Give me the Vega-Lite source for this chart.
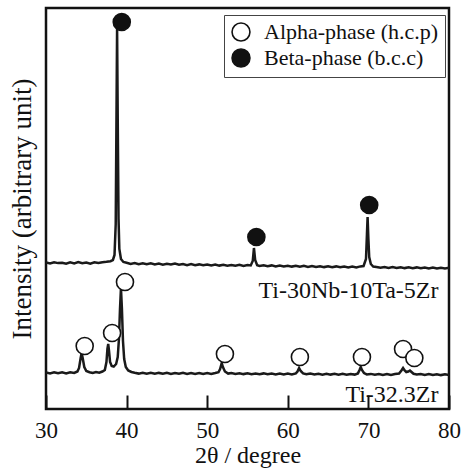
{
  "$schema": "https://vega.github.io/schema/vega-lite/v6.json",
  "autosize": {"type": "none"},
  "padding": {"left": 46, "top": 8, "right": 16, "bottom": 61},
  "width": 403,
  "height": 401,
  "config": {
    "view": {"stroke": "#111", "strokeWidth": 2.5},
    "font": "Liberation Serif"
  },
  "datasets": {
    "traceData": [
      {"sample": "upper", "theta": 30.0, "intensity": 146.5},
      {"sample": "upper", "theta": 30.5, "intensity": 145.5},
      {"sample": "upper", "theta": 31.0, "intensity": 146.8},
      {"sample": "upper", "theta": 31.5, "intensity": 145.9},
      {"sample": "upper", "theta": 32.0, "intensity": 146.3},
      {"sample": "upper", "theta": 32.5, "intensity": 145.2},
      {"sample": "upper", "theta": 33.0, "intensity": 146.6},
      {"sample": "upper", "theta": 33.5, "intensity": 145.6},
      {"sample": "upper", "theta": 34.0, "intensity": 146.9},
      {"sample": "upper", "theta": 34.5, "intensity": 145.8},
      {"sample": "upper", "theta": 35.0, "intensity": 146.4},
      {"sample": "upper", "theta": 35.5, "intensity": 145.3},
      {"sample": "upper", "theta": 36.0, "intensity": 146.7},
      {"sample": "upper", "theta": 36.5, "intensity": 146.0},
      {"sample": "upper", "theta": 37.0, "intensity": 146.8},
      {"sample": "upper", "theta": 37.5, "intensity": 147.2},
      {"sample": "upper", "theta": 38.0, "intensity": 147.8},
      {"sample": "upper", "theta": 38.3, "intensity": 149},
      {"sample": "upper", "theta": 38.5, "intensity": 154},
      {"sample": "upper", "theta": 38.65, "intensity": 185},
      {"sample": "upper", "theta": 38.75, "intensity": 300},
      {"sample": "upper", "theta": 38.82, "intensity": 381},
      {"sample": "upper", "theta": 38.9, "intensity": 290},
      {"sample": "upper", "theta": 39.0, "intensity": 190},
      {"sample": "upper", "theta": 39.1, "intensity": 160},
      {"sample": "upper", "theta": 39.3, "intensity": 150},
      {"sample": "upper", "theta": 39.6, "intensity": 147},
      {"sample": "upper", "theta": 40.0, "intensity": 146.2},
      {"sample": "upper", "theta": 40.5, "intensity": 145.1},
      {"sample": "upper", "theta": 41.0, "intensity": 146.0},
      {"sample": "upper", "theta": 41.5, "intensity": 144.9},
      {"sample": "upper", "theta": 42.0, "intensity": 145.8},
      {"sample": "upper", "theta": 42.5, "intensity": 144.7},
      {"sample": "upper", "theta": 43.0, "intensity": 145.6},
      {"sample": "upper", "theta": 43.5, "intensity": 144.6},
      {"sample": "upper", "theta": 44.0, "intensity": 145.5},
      {"sample": "upper", "theta": 44.5, "intensity": 144.3},
      {"sample": "upper", "theta": 45.0, "intensity": 145.2},
      {"sample": "upper", "theta": 45.5, "intensity": 144.5},
      {"sample": "upper", "theta": 46.0, "intensity": 145.4},
      {"sample": "upper", "theta": 46.5, "intensity": 144.2},
      {"sample": "upper", "theta": 47.0, "intensity": 145.0},
      {"sample": "upper", "theta": 47.5, "intensity": 143.9},
      {"sample": "upper", "theta": 48.0, "intensity": 144.9},
      {"sample": "upper", "theta": 48.5, "intensity": 143.8},
      {"sample": "upper", "theta": 49.0, "intensity": 144.6},
      {"sample": "upper", "theta": 49.5, "intensity": 143.7},
      {"sample": "upper", "theta": 50.0, "intensity": 144.5},
      {"sample": "upper", "theta": 50.5, "intensity": 143.5},
      {"sample": "upper", "theta": 51.0, "intensity": 144.4},
      {"sample": "upper", "theta": 51.5, "intensity": 143.4},
      {"sample": "upper", "theta": 52.0, "intensity": 144.2},
      {"sample": "upper", "theta": 52.5, "intensity": 143.3},
      {"sample": "upper", "theta": 53.0, "intensity": 144.0},
      {"sample": "upper", "theta": 53.5, "intensity": 143.2},
      {"sample": "upper", "theta": 54.0, "intensity": 144.1},
      {"sample": "upper", "theta": 54.5, "intensity": 143.0},
      {"sample": "upper", "theta": 55.0, "intensity": 143.9},
      {"sample": "upper", "theta": 55.4, "intensity": 143.5},
      {"sample": "upper", "theta": 55.65, "intensity": 148},
      {"sample": "upper", "theta": 55.8, "intensity": 161},
      {"sample": "upper", "theta": 55.95, "intensity": 149},
      {"sample": "upper", "theta": 56.2, "intensity": 143.8},
      {"sample": "upper", "theta": 56.5, "intensity": 143.0},
      {"sample": "upper", "theta": 57.0, "intensity": 143.8},
      {"sample": "upper", "theta": 57.5, "intensity": 142.8},
      {"sample": "upper", "theta": 58.0, "intensity": 143.6},
      {"sample": "upper", "theta": 58.5, "intensity": 142.6},
      {"sample": "upper", "theta": 59.0, "intensity": 143.5},
      {"sample": "upper", "theta": 59.5, "intensity": 142.5},
      {"sample": "upper", "theta": 60.0, "intensity": 143.3},
      {"sample": "upper", "theta": 60.5, "intensity": 142.4},
      {"sample": "upper", "theta": 61.0, "intensity": 143.2},
      {"sample": "upper", "theta": 61.5, "intensity": 142.2},
      {"sample": "upper", "theta": 62.0, "intensity": 143.1},
      {"sample": "upper", "theta": 62.5, "intensity": 142.1},
      {"sample": "upper", "theta": 63.0, "intensity": 142.9},
      {"sample": "upper", "theta": 63.5, "intensity": 142.0},
      {"sample": "upper", "theta": 64.0, "intensity": 142.8},
      {"sample": "upper", "theta": 64.5, "intensity": 141.9},
      {"sample": "upper", "theta": 65.0, "intensity": 142.7},
      {"sample": "upper", "theta": 65.5, "intensity": 141.8},
      {"sample": "upper", "theta": 66.0, "intensity": 142.6},
      {"sample": "upper", "theta": 66.5, "intensity": 141.7},
      {"sample": "upper", "theta": 67.0, "intensity": 142.5},
      {"sample": "upper", "theta": 67.5, "intensity": 141.6},
      {"sample": "upper", "theta": 68.0, "intensity": 142.4},
      {"sample": "upper", "theta": 68.5, "intensity": 141.6},
      {"sample": "upper", "theta": 69.0, "intensity": 142.6},
      {"sample": "upper", "theta": 69.4, "intensity": 143},
      {"sample": "upper", "theta": 69.7, "intensity": 150},
      {"sample": "upper", "theta": 69.82, "intensity": 175},
      {"sample": "upper", "theta": 69.9, "intensity": 192},
      {"sample": "upper", "theta": 70.0, "intensity": 170},
      {"sample": "upper", "theta": 70.1, "intensity": 152},
      {"sample": "upper", "theta": 70.3, "intensity": 145},
      {"sample": "upper", "theta": 70.6, "intensity": 142.5},
      {"sample": "upper", "theta": 71.0, "intensity": 142.0},
      {"sample": "upper", "theta": 71.5, "intensity": 141.2},
      {"sample": "upper", "theta": 72.0, "intensity": 142.0},
      {"sample": "upper", "theta": 72.5, "intensity": 141.1},
      {"sample": "upper", "theta": 73.0, "intensity": 141.9},
      {"sample": "upper", "theta": 73.5, "intensity": 141.0},
      {"sample": "upper", "theta": 74.0, "intensity": 141.8},
      {"sample": "upper", "theta": 74.5, "intensity": 140.9},
      {"sample": "upper", "theta": 75.0, "intensity": 141.7},
      {"sample": "upper", "theta": 75.5, "intensity": 140.8},
      {"sample": "upper", "theta": 76.0, "intensity": 141.6},
      {"sample": "upper", "theta": 76.5, "intensity": 140.7},
      {"sample": "upper", "theta": 77.0, "intensity": 141.5},
      {"sample": "upper", "theta": 77.5, "intensity": 140.6},
      {"sample": "upper", "theta": 78.0, "intensity": 141.4},
      {"sample": "upper", "theta": 78.5, "intensity": 140.5},
      {"sample": "upper", "theta": 79.0, "intensity": 141.3},
      {"sample": "upper", "theta": 79.5, "intensity": 140.6},
      {"sample": "upper", "theta": 80.0, "intensity": 141.2},
      {"sample": "lower", "theta": 30.0, "intensity": 36.5},
      {"sample": "lower", "theta": 30.5, "intensity": 35.6},
      {"sample": "lower", "theta": 31.0, "intensity": 36.8},
      {"sample": "lower", "theta": 31.5, "intensity": 35.7},
      {"sample": "lower", "theta": 32.0, "intensity": 36.6},
      {"sample": "lower", "theta": 32.5, "intensity": 35.5},
      {"sample": "lower", "theta": 33.0, "intensity": 36.7},
      {"sample": "lower", "theta": 33.5, "intensity": 36.0},
      {"sample": "lower", "theta": 33.9, "intensity": 37.5},
      {"sample": "lower", "theta": 34.1, "intensity": 41},
      {"sample": "lower", "theta": 34.3, "intensity": 51},
      {"sample": "lower", "theta": 34.42, "intensity": 56},
      {"sample": "lower", "theta": 34.55, "intensity": 51},
      {"sample": "lower", "theta": 34.75, "intensity": 42},
      {"sample": "lower", "theta": 35.0, "intensity": 38},
      {"sample": "lower", "theta": 35.4, "intensity": 36.8},
      {"sample": "lower", "theta": 35.8, "intensity": 36.0},
      {"sample": "lower", "theta": 36.2, "intensity": 36.9},
      {"sample": "lower", "theta": 36.6, "intensity": 36.3},
      {"sample": "lower", "theta": 37.0, "intensity": 37.5},
      {"sample": "lower", "theta": 37.3, "intensity": 39},
      {"sample": "lower", "theta": 37.5, "intensity": 47},
      {"sample": "lower", "theta": 37.62, "intensity": 60},
      {"sample": "lower", "theta": 37.72, "intensity": 65},
      {"sample": "lower", "theta": 37.82, "intensity": 58},
      {"sample": "lower", "theta": 37.95, "intensity": 47},
      {"sample": "lower", "theta": 38.15, "intensity": 43},
      {"sample": "lower", "theta": 38.4, "intensity": 42.5},
      {"sample": "lower", "theta": 38.7, "intensity": 45},
      {"sample": "lower", "theta": 38.9, "intensity": 52},
      {"sample": "lower", "theta": 39.05, "intensity": 70},
      {"sample": "lower", "theta": 39.18, "intensity": 100},
      {"sample": "lower", "theta": 39.3, "intensity": 121},
      {"sample": "lower", "theta": 39.42, "intensity": 100},
      {"sample": "lower", "theta": 39.55, "intensity": 68},
      {"sample": "lower", "theta": 39.7, "intensity": 50},
      {"sample": "lower", "theta": 39.9, "intensity": 42},
      {"sample": "lower", "theta": 40.2, "intensity": 38.5},
      {"sample": "lower", "theta": 40.6, "intensity": 37},
      {"sample": "lower", "theta": 41.0, "intensity": 36.2},
      {"sample": "lower", "theta": 41.5, "intensity": 35.4},
      {"sample": "lower", "theta": 42.0, "intensity": 36.3},
      {"sample": "lower", "theta": 42.5, "intensity": 35.3},
      {"sample": "lower", "theta": 43.0, "intensity": 36.2},
      {"sample": "lower", "theta": 43.5, "intensity": 35.2},
      {"sample": "lower", "theta": 44.0, "intensity": 36.1},
      {"sample": "lower", "theta": 44.5, "intensity": 35.3},
      {"sample": "lower", "theta": 45.0, "intensity": 36.2},
      {"sample": "lower", "theta": 45.5, "intensity": 35.1},
      {"sample": "lower", "theta": 46.0, "intensity": 36.0},
      {"sample": "lower", "theta": 46.5, "intensity": 35.2},
      {"sample": "lower", "theta": 47.0, "intensity": 36.1},
      {"sample": "lower", "theta": 47.5, "intensity": 35.0},
      {"sample": "lower", "theta": 48.0, "intensity": 35.9},
      {"sample": "lower", "theta": 48.5, "intensity": 35.1},
      {"sample": "lower", "theta": 49.0, "intensity": 36.0},
      {"sample": "lower", "theta": 49.5, "intensity": 35.0},
      {"sample": "lower", "theta": 50.0, "intensity": 35.9},
      {"sample": "lower", "theta": 50.5, "intensity": 35.1},
      {"sample": "lower", "theta": 51.0, "intensity": 36.0},
      {"sample": "lower", "theta": 51.4, "intensity": 36.8},
      {"sample": "lower", "theta": 51.6, "intensity": 40},
      {"sample": "lower", "theta": 51.8, "intensity": 46},
      {"sample": "lower", "theta": 51.95, "intensity": 42},
      {"sample": "lower", "theta": 52.2, "intensity": 37.5},
      {"sample": "lower", "theta": 52.6, "intensity": 35.4},
      {"sample": "lower", "theta": 53.0, "intensity": 36.0},
      {"sample": "lower", "theta": 53.5, "intensity": 35.0},
      {"sample": "lower", "theta": 54.0, "intensity": 35.8},
      {"sample": "lower", "theta": 54.5, "intensity": 34.9},
      {"sample": "lower", "theta": 55.0, "intensity": 35.7},
      {"sample": "lower", "theta": 55.5, "intensity": 34.8},
      {"sample": "lower", "theta": 56.0, "intensity": 35.6},
      {"sample": "lower", "theta": 56.5, "intensity": 34.8},
      {"sample": "lower", "theta": 57.0, "intensity": 35.6},
      {"sample": "lower", "theta": 57.5, "intensity": 34.7},
      {"sample": "lower", "theta": 58.0, "intensity": 35.5},
      {"sample": "lower", "theta": 58.5, "intensity": 34.6},
      {"sample": "lower", "theta": 59.0, "intensity": 35.5},
      {"sample": "lower", "theta": 59.5, "intensity": 34.6},
      {"sample": "lower", "theta": 60.0, "intensity": 35.4},
      {"sample": "lower", "theta": 60.5, "intensity": 34.6},
      {"sample": "lower", "theta": 61.0, "intensity": 35.6},
      {"sample": "lower", "theta": 61.2, "intensity": 37.5},
      {"sample": "lower", "theta": 61.4, "intensity": 41},
      {"sample": "lower", "theta": 61.6, "intensity": 38},
      {"sample": "lower", "theta": 61.9, "intensity": 35.6},
      {"sample": "lower", "theta": 62.3, "intensity": 34.7},
      {"sample": "lower", "theta": 62.8, "intensity": 35.4},
      {"sample": "lower", "theta": 63.3, "intensity": 34.5},
      {"sample": "lower", "theta": 63.8, "intensity": 35.3},
      {"sample": "lower", "theta": 64.3, "intensity": 34.4},
      {"sample": "lower", "theta": 64.8, "intensity": 35.3},
      {"sample": "lower", "theta": 65.3, "intensity": 34.4},
      {"sample": "lower", "theta": 65.8, "intensity": 35.2},
      {"sample": "lower", "theta": 66.3, "intensity": 34.3},
      {"sample": "lower", "theta": 66.8, "intensity": 35.2},
      {"sample": "lower", "theta": 67.3, "intensity": 34.3},
      {"sample": "lower", "theta": 67.8, "intensity": 35.1},
      {"sample": "lower", "theta": 68.3, "intensity": 34.4},
      {"sample": "lower", "theta": 68.7, "intensity": 35.6},
      {"sample": "lower", "theta": 68.9, "intensity": 39},
      {"sample": "lower", "theta": 69.05, "intensity": 42},
      {"sample": "lower", "theta": 69.2, "intensity": 39},
      {"sample": "lower", "theta": 69.45, "intensity": 36},
      {"sample": "lower", "theta": 69.8, "intensity": 34.6},
      {"sample": "lower", "theta": 70.3, "intensity": 35.1},
      {"sample": "lower", "theta": 70.8, "intensity": 34.2},
      {"sample": "lower", "theta": 71.3, "intensity": 35.0},
      {"sample": "lower", "theta": 71.8, "intensity": 34.1},
      {"sample": "lower", "theta": 72.3, "intensity": 35.0},
      {"sample": "lower", "theta": 72.8, "intensity": 34.1},
      {"sample": "lower", "theta": 73.3, "intensity": 34.9},
      {"sample": "lower", "theta": 73.8, "intensity": 35.5},
      {"sample": "lower", "theta": 74.1, "intensity": 38.5},
      {"sample": "lower", "theta": 74.3, "intensity": 41},
      {"sample": "lower", "theta": 74.5, "intensity": 38.5},
      {"sample": "lower", "theta": 74.7, "intensity": 37},
      {"sample": "lower", "theta": 74.95, "intensity": 37.5},
      {"sample": "lower", "theta": 75.15, "intensity": 38.5},
      {"sample": "lower", "theta": 75.35, "intensity": 37},
      {"sample": "lower", "theta": 75.6, "intensity": 35.2},
      {"sample": "lower", "theta": 76.0, "intensity": 34.5},
      {"sample": "lower", "theta": 76.5, "intensity": 35.0},
      {"sample": "lower", "theta": 77.0, "intensity": 34.1},
      {"sample": "lower", "theta": 77.5, "intensity": 34.9},
      {"sample": "lower", "theta": 78.0, "intensity": 34.0},
      {"sample": "lower", "theta": 78.5, "intensity": 34.8},
      {"sample": "lower", "theta": 79.0, "intensity": 33.9},
      {"sample": "lower", "theta": 79.5, "intensity": 34.7},
      {"sample": "lower", "theta": 80.0, "intensity": 34.0}
    ],
    "markerData": [
      {"phase": "Alpha-phase (h.c.p)", "theta": 34.8, "intensity": 63},
      {"phase": "Alpha-phase (h.c.p)", "theta": 38.2, "intensity": 76},
      {"phase": "Alpha-phase (h.c.p)", "theta": 39.8, "intensity": 127},
      {"phase": "Alpha-phase (h.c.p)", "theta": 52.2, "intensity": 55},
      {"phase": "Alpha-phase (h.c.p)", "theta": 61.5, "intensity": 52},
      {"phase": "Alpha-phase (h.c.p)", "theta": 69.2, "intensity": 52},
      {"phase": "Alpha-phase (h.c.p)", "theta": 74.3, "intensity": 60},
      {"phase": "Alpha-phase (h.c.p)", "theta": 75.7, "intensity": 51},
      {"phase": "Beta-phase (b.c.c)", "theta": 39.4, "intensity": 387},
      {"phase": "Beta-phase (b.c.c)", "theta": 56.1, "intensity": 172},
      {"phase": "Beta-phase (b.c.c)", "theta": 70.1, "intensity": 204}
    ],
    "labelData": [
      {"label": "Ti-30Nb-10Ta-5Zr", "theta": 78.7, "intensity": 111},
      {"label": "Ti-32.3Zr", "theta": 78.7, "intensity": 7.5}
    ]
  },
  "layer": [
    {
      "data": {"name": "traceData"},
      "mark": {"type": "line", "color": "#1a1a1a", "strokeWidth": 2.5, "clip": true},
      "encoding": {
        "x": {
          "field": "theta", "type": "quantitative",
          "scale": {"domain": [30, 80], "nice": false, "zero": false},
          "axis": {
            "values": [30, 40, 50, 60, 70, 80],
            "domain": false, "grid": false,
            "tickSize": -14, "tickWidth": 2, "tickColor": "#111",
            "labelFont": "Liberation Serif", "labelFontSize": 23, "labelColor": "#111",
            "labelPadding": 24, "labelFlush": false,
            "title": "2θ / degree", "titleFont": "Liberation Serif", "titleFontSize": 24,
            "titleFontWeight": "normal", "titleColor": "#111", "titlePadding": 1
          }
        },
        "y": {
          "field": "intensity", "type": "quantitative",
          "scale": {"domain": [0, 401], "nice": false},
          "axis": {
            "domain": false, "grid": false, "ticks": false, "labels": false,
            "title": "Intensity (arbitrary unit)", "titleFont": "Liberation Serif",
            "titleFontSize": 27, "titleFontWeight": "normal", "titleColor": "#111",
            "titlePadding": 10
          }
        },
        "detail": {"field": "sample", "type": "nominal"}
      }
    },
    {
      "data": {"name": "markerData"},
      "mark": {"type": "circle", "size": 290, "stroke": "#111", "strokeWidth": 1.6, "opacity": 1},
      "encoding": {
        "x": {"field": "theta", "type": "quantitative"},
        "y": {"field": "intensity", "type": "quantitative"},
        "fill": {
          "field": "phase", "type": "nominal",
          "scale": {"domain": ["Alpha-phase (h.c.p)", "Beta-phase (b.c.c)"], "range": ["white", "#111"]},
          "legend": {
            "title": null, "orient": "none", "legendX": 178, "legendY": 7,
            "symbolType": "circle", "symbolSize": 320, "symbolStrokeColor": "#111",
            "symbolStrokeWidth": 1.6, "symbolOpacity": 1,
            "labelFont": "Liberation Serif", "labelFontSize": 22, "labelColor": "#111",
            "labelLimit": 0, "labelOffset": 12, "rowPadding": 0, "padding": 6,
            "strokeColor": "#444"
          }
        }
      }
    },
    {
      "data": {"name": "labelData"},
      "mark": {"type": "text", "align": "right", "baseline": "alphabetic", "font": "Liberation Serif", "fontSize": 24, "color": "#111"},
      "encoding": {
        "x": {"field": "theta", "type": "quantitative"},
        "y": {"field": "intensity", "type": "quantitative"},
        "text": {"field": "label", "type": "nominal"}
      }
    }
  ]
}
